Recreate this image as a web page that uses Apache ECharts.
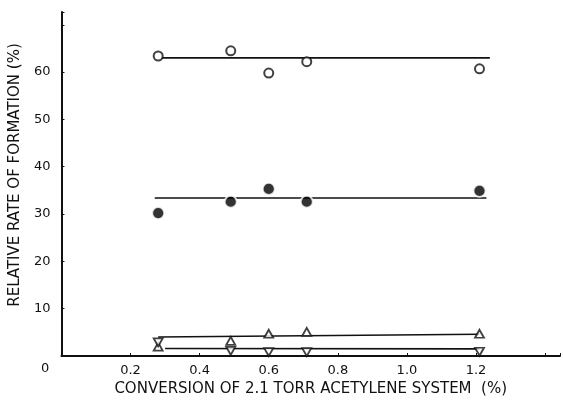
<!DOCTYPE html>
<html><head><meta charset="utf-8">
<script src="https://cdn.jsdelivr.net/npm/echarts@6/dist/echarts.min.js"></script>
<style>html,body{margin:0;padding:0;background:#fff}#c{width:563px;height:406px}</style>
</head><body><div id="c"></div>
<script>
// Data
const xValues = [0.28, 0.49, 0.60, 0.71, 1.21];
const openCircles = [63.4, 64.5, 59.8, 62.2, 60.7];
const filledCircles = [30.2, 32.6, 35.3, 32.6, 34.9];
const upTriangles = [2.0, 3.2, 4.7, 5.1, 4.7];
const downTriangles = [2.9, 1.1, 0.8, 0.8, 0.9];
// fitted lines: [x, y] endpoints
const openFit = [[0.29, 63.0], [1.24, 63.0]];
const filledFit = [[0.27, 33.4], [1.23, 33.4]];
const upFit = [[0.28, 4.0], [1.21, 4.6]];
const downFit = [[0.30, 1.6], [1.21, 1.5]];
const xTicks = [0.2, 0.4, 0.6, 0.8, 1.0, 1.2];
const yTicks = [10, 20, 30, 40, 50, 60];

const pair = (xs, ys) => xs.map((x, i) => [x, ys[i]]);
const ink = '#111111';
const font = 'DejaVu Sans';

const lineSeries = (data) => ({
  type: 'line', data, symbol: 'none', z: 2,
  lineStyle: { color: ink, width: 1.6 }, silent: true
});

const chart = echarts.init(document.getElementById('c'), null, { renderer: 'canvas' });
chart.setOption({
  animation: false,
  backgroundColor: '#ffffff',
  grid: { left: 58, top: 12, width: 505, height: 344 },
  xAxis: {
    type: 'value', min: 0, max: 1.443, interval: 0.2,
    axisLine: { lineStyle: { color: ink, width: 2 } },
    axisTick: { show: true, inside: true, length: 3, lineStyle: { color: ink, width: 1 } },
    splitLine: { show: false },
    axisLabel: {
      formatter: v => xTicks.some(t => Math.abs(t - v) < 1e-6) ? v.toFixed(1) : '',
      margin: 8, fontFamily: font, fontSize: 13, color: ink
    },
    name: 'CONVERSION OF 2.1 TORR ACETYLENE SYSTEM  (%)',
    nameLocation: 'middle', nameGap: 17,
    nameTextStyle: { fontFamily: font, fontSize: 15, color: ink }
  },
  yAxis: {
    type: 'value', min: 0, max: 72.7, interval: 10,
    axisLine: { show: true, lineStyle: { color: ink, width: 2 } },
    axisTick: { show: true, inside: true, length: 3, lineStyle: { color: ink, width: 1 } },
    splitLine: { show: false },
    axisLabel: {
      formatter: v => yTicks.includes(Math.round(v)) && Math.abs(v - Math.round(v)) < 1e-6 ? String(Math.round(v)) : '',
      margin: 11, fontFamily: font, fontSize: 13, color: ink
    },
    name: 'RELATIVE RATE OF FORMATION (%)',
    nameLocation: 'middle', nameGap: 33,
    nameTextStyle: { fontFamily: font, fontSize: 15, color: ink, padding: [0, 0, 0, 18] }
  },
  graphic: [{
    type: 'text', left: 41, top: 362,
    style: { text: '0', font: '13px "DejaVu Sans"', fill: ink }
  }],
  series: [
    lineSeries(openFit),
    lineSeries(filledFit),
    lineSeries(upFit),
    lineSeries(downFit),
    {
      type: 'scatter', data: pair(xValues, openCircles), symbol: 'circle', symbolSize: 9, z: 5,
      itemStyle: { color: '#fff', borderColor: ink, borderWidth: 2 }
    },
    {
      type: 'scatter', data: pair(xValues, filledCircles), symbol: 'circle', symbolSize: 12, z: 5,
      itemStyle: { color: '#000', borderColor: '#fff', borderWidth: 1.8 }
    },
    {
      type: 'scatter', data: pair(xValues, upTriangles), symbol: 'triangle', symbolSize: [9, 8], z: 5,
      itemStyle: { color: '#fff', borderColor: ink, borderWidth: 1.8 }
    },
    {
      type: 'scatter', data: pair(xValues, downTriangles), symbol: 'triangle', symbolRotate: 180, symbolSize: [9, 8], z: 5,
      itemStyle: { color: '#fff', borderColor: ink, borderWidth: 1.8 }
    }
  ]
});
</script>
</body></html>
